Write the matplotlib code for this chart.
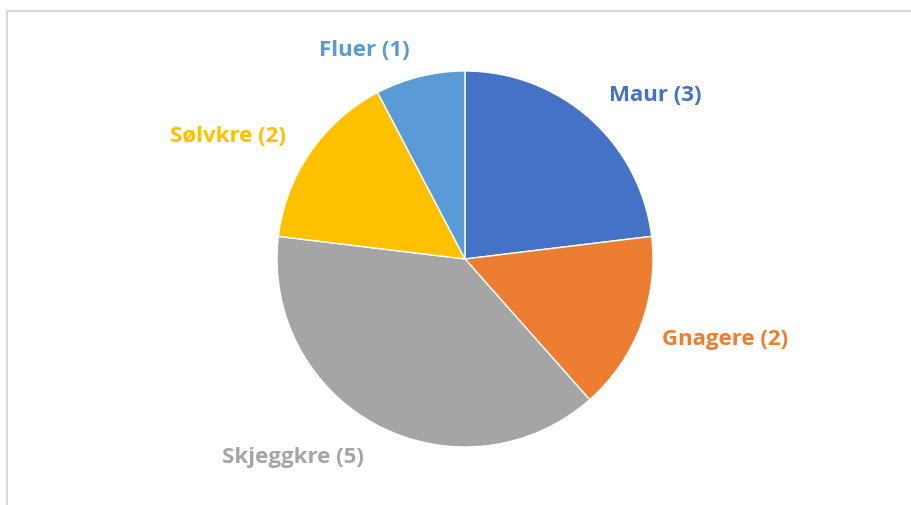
import matplotlib
matplotlib.use("Agg")
import matplotlib.pyplot as plt
from matplotlib.patches import Rectangle

categories = ["Maur", "Gnagere", "Skjeggkre", "Sølvkre", "Fluer"]
values = [3, 2, 5, 2, 1]
colors = ["#4472C4", "#ED7D31", "#A5A5A5", "#FFC000", "#5B9BD5"]

# label centre positions in pixel space (layout)
label_pos = [(655, 95), (725, 339), (293, 458), (228, 136), (364, 50)]

W, H = 912, 505
fig = plt.figure(figsize=(W / 100, H / 100), dpi=100)
ax = fig.add_axes([0, 0, 1, 1])
ax.set_xlim(0, W)
ax.set_ylim(0, H)
ax.set_aspect("equal")
ax.axis("off")

# chart area border
ax.add_patch(Rectangle((7, -20), W + 40, H - 11 + 20, fill=False,
                       edgecolor="#D9D9D9", linewidth=1.5))

cx, cy, r = 465, H - 259, 188
ax.pie(values, colors=colors, startangle=90, counterclock=False,
       center=(cx, cy), radius=r, frame=True,
       wedgeprops=dict(edgecolor="white", linewidth=1.0))
ax.set_xlim(0, W)
ax.set_ylim(0, H)
ax.axis("off")

for cat, v, c, (px, py) in zip(categories, values, colors, label_pos):
    ax.text(px, H - py, f"{cat} ({v})", color=c, fontsize=16,
            fontweight="bold", family=["Open Sans", "DejaVu Sans"],
            ha="center", va="center")

fig.savefig("out.png", dpi=100)
